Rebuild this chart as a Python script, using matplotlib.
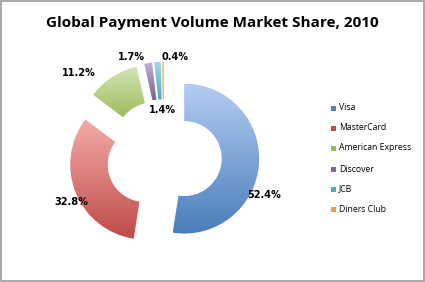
import numpy as np
import matplotlib
matplotlib.use("Agg")
import matplotlib.pyplot as plt
from matplotlib.colors import LinearSegmentedColormap
from matplotlib.patches import Rectangle

# data
brands = ['Visa', 'MasterCard', 'American Express', 'Discover', 'JCB', 'Diners Club']
share = [52.4, 32.8, 11.2, 1.7, 1.4, 0.4]
dark = ['#4a7ebb', '#be4b48', '#9dbd5e', '#7d60a0', '#46aac4', '#f69240']
light = ['#b3cdf2', '#f5aba8', '#d3e6b6', '#c0b0d6', '#9fd8ea', '#fcc79a']
legend_cols = ['#4f81bd', '#c0504d', '#9bbb59', '#8064a2', '#4bacc6', '#f79646']
title = 'Global Payment Volume Market Share, 2010'

# label spots (data units, pie radius = 1)
label_xy = [(1.34, -0.50), (-1.23, -0.60), (-1.14, 1.12), (-0.43, 1.33), (-0.02, 0.63), (0.15, 1.33)]

fig = plt.figure(figsize=(4.25, 2.82), dpi=100)
fig.patch.set_facecolor('white')
ax = fig.add_axes([0, 0, 1, 1])

cx, cy, s = 164, 282 - 157, 75.0

wedges, _ = ax.pie(share, startangle=90, counterclock=False, radius=1.0,
                   explode=[0.27] * len(share),
                   wedgeprops=dict(width=0.5, linewidth=0, edgecolor='none'))
ax.set_xlim(-cx / s, (425 - cx) / s)
ax.set_ylim(-cy / s, (282 - cy) / s)
ax.set_aspect('equal')
ax.axis('off')

grad = np.linspace(0, 1, 100).reshape(-1, 1)
for w, lo, hi in zip(wedges, light, dark):
    w.set_facecolor('none')
    ext = w.get_path().get_extents()
    cmap = LinearSegmentedColormap.from_list('g', [lo, hi])
    im = ax.imshow(grad, cmap=cmap, aspect='auto', origin='upper',
                   extent=[ext.x0, ext.x1, ext.y0, ext.y1], zorder=2)
    im.set_clip_path(w)
ax.set_xlim(-cx / s, (425 - cx) / s)
ax.set_ylim(-cy / s, (282 - cy) / s)

for v, (x, y) in zip(share, label_xy):
    ax.text(x, y, f'{v:.1f}%', ha='center', va='center', fontsize=7,
            fontweight='bold', color='black', zorder=5)

fig.text(0.5, (282 - 23) / 282, title, ha='center', va='center', fontsize=11,
         fontweight='bold', family='Open Sans')

# legend
ly = [108, 128, 148, 169, 189, 209]
for name, c, y in zip(brands, legend_cols, ly):
    fig.patches.append(Rectangle((331 / 425, (282 - y - 2.5) / 282), 5 / 425, 5 / 282,
                                 transform=fig.transFigure, facecolor=c, edgecolor='none'))
    fig.text(339 / 425, (282 - y) / 282, name, ha='left', va='center', fontsize=6.2,
             family='Open Sans')

fig.patches.append(Rectangle((0.002, 0.003), 0.995, 0.994, transform=fig.transFigure,
                             facecolor='none', edgecolor='#9a9a9a', linewidth=1.2))

fig.savefig('out.png', dpi=100)
